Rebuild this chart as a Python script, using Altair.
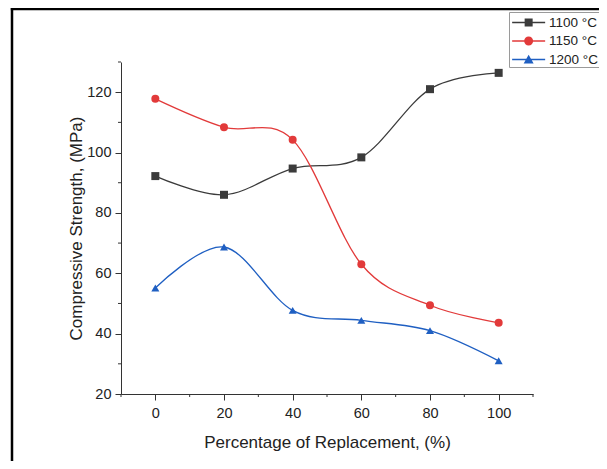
import altair as alt
import pandas as pd

# ---- data ----
replacement = [0, 20, 40, 60, 80, 100]
strength_1100 = [92.2, 86.0, 94.7, 98.4, 121.0, 126.4]
strength_1150 = [117.8, 108.4, 104.2, 63.0, 49.4, 43.6]
strength_1200 = [55.1, 68.7, 47.7, 44.4, 41.0, 31.0]

series_names = ["1100 °C", "1150 °C", "1200 °C"]
series_colors = ["#3b3b3b", "#e23a3a", "#1f5fc2"]
marker_shapes = ["square", "circle", "triangle-up"]

x_major_ticks = [0, 20, 40, 60, 80, 100]
x_minor_ticks = [-10, 10, 30, 50, 70, 90, 110]
y_major_ticks = [20, 40, 60, 80, 100, 120]
y_minor_ticks = [30, 50, 70, 90, 110, 130]

x_title = "Percentage of Replacement, (%)"
y_title = "Compressive Strength, (MPa)"

rows = []
for name, vals in zip(series_names, [strength_1100, strength_1150, strength_1200]):
    for xv, yv in zip(replacement, vals):
        rows.append({"Replacement": xv, "Strength": yv, "Series": name})
df = pd.DataFrame(rows)

# ---- styling ----
FONT = "Liberation Sans"
W, H = 412, 332
AXIS_COLOR = "#333333"

# legend symbols: a line with the marker on it (unit coords, scaled by sqrt(size)/2)
line_part = "M-0.786,-0.07H2.742V0.07H-0.786Z"
legend_paths = [
    line_part + " M0.55,-0.428H1.406V0.428H0.55Z",
    line_part + " M0.498,0A0.48,0.48 0 1,1 1.458,0A0.48,0.48 0 1,1 0.498,0Z",
    line_part + " M0.978,-0.52L1.512,0.44L0.444,0.44Z",
]


def make_axis(title, values, title_padding, label_padding):
    return alt.Axis(
        title=title,
        values=values,
        grid=False,
        labelOverlap=False,
        labelFlush=False,
        tickSize=6,
        tickColor=AXIS_COLOR,
        tickWidth=1,
        domainColor=AXIS_COLOR,
        domainWidth=1,
        labelFont=FONT,
        labelFontSize=14.5,
        labelColor="#222222",
        labelPadding=label_padding,
        titleFont=FONT,
        titleFontSize=17,
        titleFontWeight="normal",
        titleColor="#222222",
        titlePadding=title_padding,
    )


x_axis = make_axis(x_title, x_major_ticks, 15, 6)
y_axis = make_axis(y_title, y_major_ticks, 1, 4)
x_scale = alt.Scale(domain=[-10, 110], nice=False, zero=False)
y_scale = alt.Scale(domain=[20, 130], nice=False, zero=False)
color_scale = alt.Scale(domain=series_names, range=series_colors)

x_enc = alt.X("Replacement:Q", scale=x_scale, axis=x_axis)
y_enc = alt.Y("Strength:Q", scale=y_scale, axis=y_axis)

base = alt.Chart(df).encode(
    x=x_enc,
    y=y_enc,
    color=alt.Color("Series:N", scale=color_scale, legend=None),
)

lines = base.mark_line(interpolate="cardinal", strokeWidth=1.3)

point_layers = [
    base.transform_filter(alt.datum.Series == name).mark_point(
        shape=shp, filled=True, size=64, opacity=1
    )
    for name, shp in zip(series_names, marker_shapes)
]

legend_kwargs = dict(
    orient="none",
    legendX=388,
    legendY=-50,
    title=None,
    labelFont=FONT,
    labelFontSize=13.5,
    labelColor="#222222",
    symbolSize=350,
    symbolStrokeWidth=0,
    symbolOpacity=1,
    padding=1,
    rowPadding=2.5,
    labelOffset=20,
    strokeColor="#9a9a9a",
    fillColor="white",
)

legend_layer = (
    alt.Chart(df)
    .transform_filter("false")
    .mark_point(filled=True, opacity=1)
    .encode(
        x=x_enc,
        y=y_enc,
        fill=alt.Fill("Series:N", scale=color_scale, legend=alt.Legend(**legend_kwargs)),
        shape=alt.Shape(
            "Series:N",
            scale=alt.Scale(domain=series_names, range=legend_paths),
            legend=alt.Legend(**legend_kwargs),
        ),
    )
)

# minor ticks (outside, short)
x_minor = alt.Chart(pd.DataFrame({"Replacement": x_minor_ticks})).mark_rule(
    color=AXIS_COLOR, strokeWidth=1
).encode(x=x_enc, y=alt.value(H), y2=alt.value(H + 3))
y_minor = alt.Chart(pd.DataFrame({"Strength": y_minor_ticks})).mark_rule(
    color=AXIS_COLOR, strokeWidth=1
).encode(y=y_enc, x=alt.value(0), x2=alt.value(-3))

frame_df = pd.DataFrame({"k": [0]})
frame_left = alt.Chart(frame_df).mark_rule(color="black", strokeWidth=2.5).encode(
    x=alt.value(-109), y=alt.value(-60), y2=alt.value(H + 150)
)
frame_top = alt.Chart(frame_df).mark_rule(color="black", strokeWidth=2.5).encode(
    x=alt.value(-110.2), x2=alt.value(W + 200), y=alt.value(-53)
)

chart = (
    alt.layer(legend_layer, frame_left, frame_top, x_minor, y_minor, lines, *point_layers)
    .properties(
        width=W,
        height=H,
        padding={"left": 113, "top": 54, "right": 66, "bottom": 67},
        autosize=alt.AutoSizeParams(type="none"),
        background="white",
    )
    .configure_view(stroke=None)
)

chart.save("out.html", embed_options={"renderer": "svg", "actions": False})
